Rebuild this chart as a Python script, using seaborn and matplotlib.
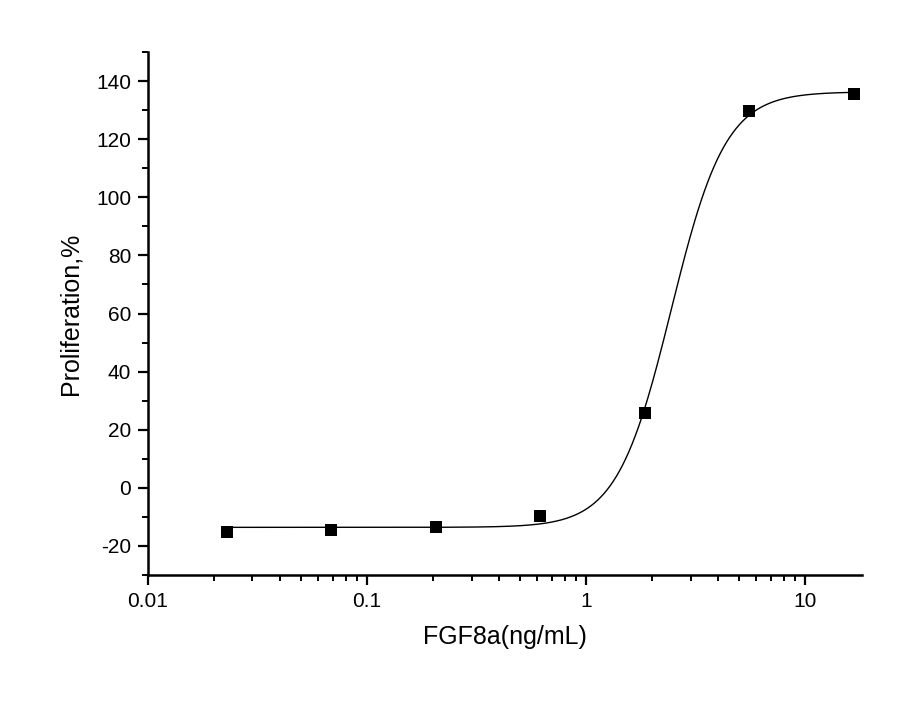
import numpy as np
import pandas as pd
import matplotlib
matplotlib.use("Agg")
import matplotlib.pyplot as plt
import seaborn as sns
from matplotlib.ticker import LogLocator, MultipleLocator, FixedLocator, FixedFormatter

sns.set_style("ticks")
plt.rcParams['font.family'] = ['Liberation Sans', 'DejaVu Sans']
plt.rcParams['axes.unicode_minus'] = False
plt.rcParams['text.color'] = 'black'
plt.rcParams['axes.labelcolor'] = 'black'
plt.rcParams['xtick.color'] = 'black'
plt.rcParams['ytick.color'] = 'black'
plt.rcParams['axes.edgecolor'] = 'black'

# Data
conc = [0.0229, 0.0686, 0.206, 0.617, 1.85, 5.56, 16.67]
prolif = [-15.1, -14.5, -13.4, -9.6, 25.8, 129.7, 135.5]

# 4-parameter logistic fit parameters
bottom, top, ec50, hill = -13.6, 136.3, 2.45, 3.5

df = pd.DataFrame({"conc": conc, "prolif": prolif})
xs = np.logspace(np.log10(conc[0]), np.log10(conc[-1]), 400)
ys = bottom + (top - bottom) / (1 + (ec50 / xs) ** hill)
fit = pd.DataFrame({"conc": xs, "prolif": ys})

fig = plt.figure(figsize=(9.11, 7.09), dpi=100)
ax = fig.add_axes([148/911, 1-575/709, (862-148)/911, (575-52)/709])

sns.lineplot(data=fit, x="conc", y="prolif", color="black", lw=1.0, ax=ax)
sns.scatterplot(data=df, x="conc", y="prolif", marker="s", color="black",
                s=65, edgecolor="black", linewidth=0, ax=ax, zorder=3)

ax.set_xscale("log")
ax.set_xlim(0.01, 18.2)
ax.set_ylim(-30, 150)
ax.yaxis.set_major_locator(FixedLocator([-20, 0, 20, 40, 60, 80, 100, 120, 140]))
ax.yaxis.set_minor_locator(MultipleLocator(10))
ax.xaxis.set_major_locator(FixedLocator([0.01, 0.1, 1, 10]))
ax.xaxis.set_major_formatter(FixedFormatter(["0.01", "0.1", "1", "10"]))
ax.xaxis.set_minor_locator(LogLocator(base=10, subs=np.arange(2, 10)))
ax.xaxis.set_minor_formatter(plt.NullFormatter())

for s in ["top", "right"]:
    ax.spines[s].set_visible(False)
for s in ["left", "bottom"]:
    ax.spines[s].set_linewidth(1.8)
ax.tick_params(which="major", direction="out", length=7, width=1.6, labelsize=15, pad=5)
ax.tick_params(which="minor", direction="out", length=4, width=1.4)

ax.set_xlabel("FGF8a(ng/mL)", fontsize=18, labelpad=10)
ax.set_ylabel("Proliferation,%", fontsize=18, labelpad=10)

fig.savefig("out.png", dpi=100, facecolor="white")
